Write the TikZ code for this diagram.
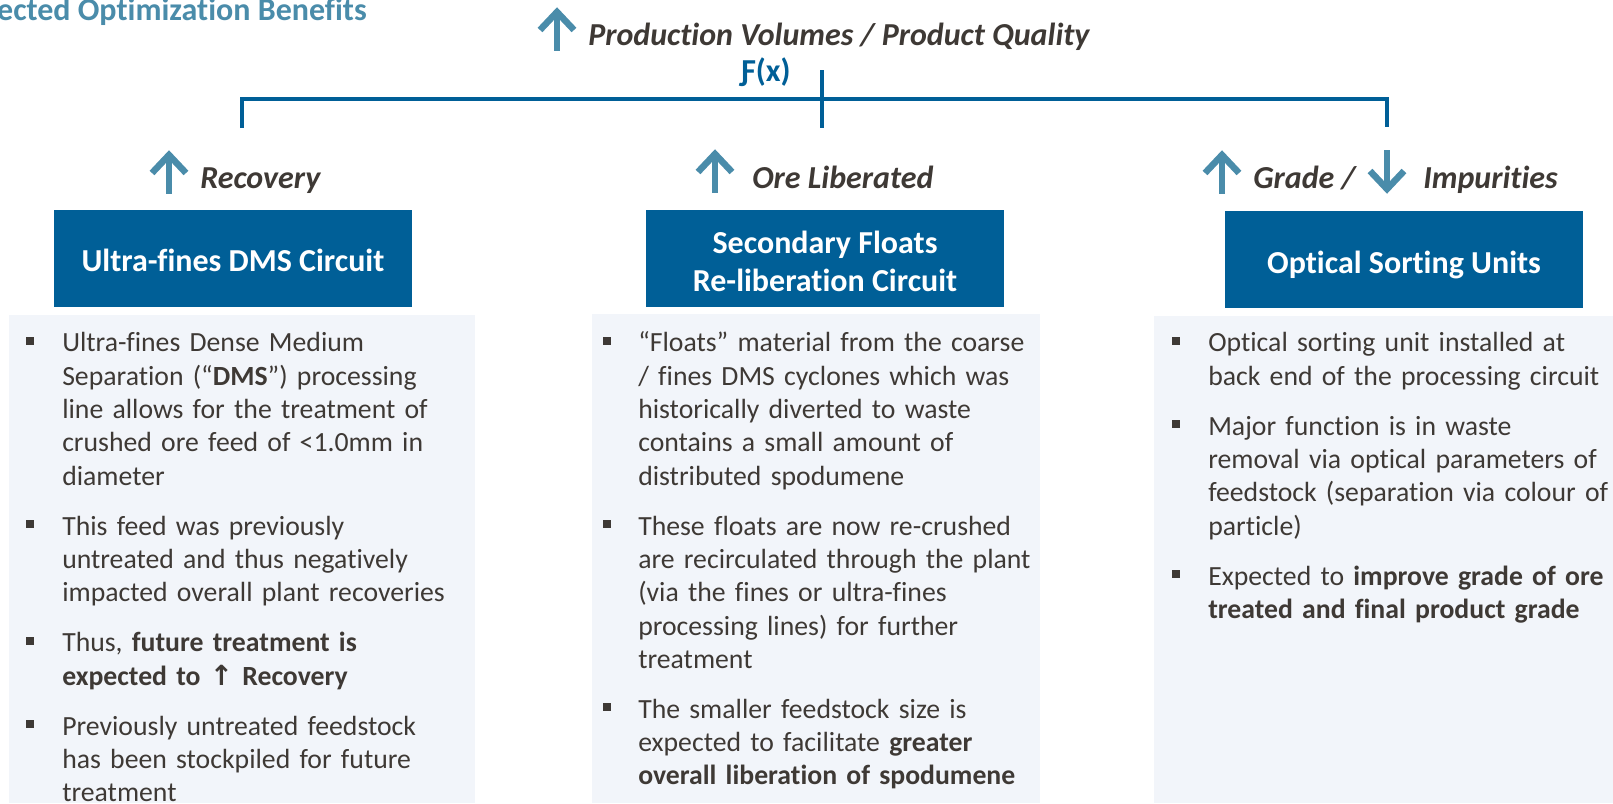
\documentclass[tikz,border=0pt]{standalone}
\usepackage{fontspec}
\setmainfont{Carlito}[Ligatures={NoCommon}]
\newfontfamily\arrowfont{DejaVu Sans}
\usetikzlibrary{calc}
\definecolor{textdark}{HTML}{3E3935}
\definecolor{teal}{HTML}{4A8CAA}
\definecolor{boxblue}{HTML}{005F97}
\definecolor{panelbg}{HTML}{F2F5FA}
\begin{document}
\begin{tikzpicture}[x=0.75pt,y=-0.75pt,
  hbox/.style={fill=boxblue, minimum width=268.5pt, minimum height=72.75pt, inner sep=0pt},
  htext/.style={text=white, inner sep=0pt, align=center, font=\bfseries\fontsize{24pt}{28.5pt}\selectfont},
  lbl/.style={anchor=base west, inner sep=0pt, text=textdark, font=\bfseries\itshape\fontsize{24pt}{28.5pt}\selectfont},
  body/.style={anchor=base west, inner sep=0pt, text=textdark, text width=450pt, align=left,
    font=\fontsize{20.8pt}{25pt}\selectfont},
  bul/.style={fill=textdark, minimum size=5.6pt, inner sep=0pt},
  bracket/.style={draw=boxblue, line width=2.5pt},
  arr/.style={draw=teal, line width=4.9pt},
  uparr/.pic={\draw[arr] (0,5) -- (0,44); \draw[arr, line join=miter] (-17,23) -- (0,5) -- (17,23);},
  dnarr/.pic={\draw[arr] (0,0) -- (0,39); \draw[arr, line join=miter] (-17,21) -- (0,39) -- (17,21);}
]
\useasboundingbox (0,0) rectangle (1613,803);
\fill[white] (0,0) rectangle (1613,803);

% title
\node[anchor=base east, inner sep=0pt, text=teal, font=\bfseries\fontsize{24pt}{28.5pt}\selectfont] (title) at (367,20) {ected Optimization Benefits};

% top objective
\pic at (557,7) {uparr};
\node[lbl] (prod) at (588,45) {Production Volumes / Product Quality};
\node[anchor=base west, inner sep=0pt, text=boxblue, font=\bfseries\fontsize{24pt}{28.5pt}\selectfont] (fx) at (741,81) {Ƒ(x)};

% bracket
\coordinate (bl) at (242,128);
\coordinate (blt) at (242,99);
\coordinate (brt) at (1387,99);
\coordinate (br) at (1387,127);
\coordinate (ct) at (822,70);
\coordinate (cb) at (822,128);
\draw[bracket] (bl) -- (blt) -- (brt) -- (br);
\draw[bracket] (ct) -- (cb);

% sub-objectives
\pic at (169,150) {uparr};
\node[lbl] (rec) at (200,188) {Recovery};
\pic at (715,149) {uparr};
\node[lbl] (ore) at (752,188) {Ore Liberated};
\pic at (1222,150) {uparr};
\node[lbl] (grade) at (1253,188) {Grade /};
\pic at (1387,150) {dnarr};
\node[lbl] (imp) at (1423,188) {Impurities};

% panels
\fill[panelbg] (9,315) rectangle (475,803);
\fill[panelbg] (592,314) rectangle (1040,803);
\fill[panelbg] (1154,316) rectangle (1613,803);

% header boxes
\node[hbox] (box1) at (233,258.5) {};
\node[htext] (box1t) at ($(box1.center)+(0,2)$) {Ultra-fines DMS Circuit};
\node[hbox] (box2) at (825,258.5) {};
\node[htext] (box2t) at ($(box2.center)+(0,3)$) {Secondary Floats\\Re-liberation Circuit};
\node[hbox] (box3) at (1404,259) {};
\node[htext] (box3t) at ($(box3.center)+(0,6)$) {Optical Sorting Units};

% panel 1
\node[bul] (b1a) at (30,341) {};
\node[body] (t1a) at (62,351.7) {Ultra-fines Dense Medium\\Separation (“\textbf{DMS}”) processing\\line allows for the treatment of\\crushed ore feed of <1.0mm in\\diameter};
\node[bul] (b1b) at (30,524) {};
\node[body] (t1b) at (62,535) {This feed was previously\\untreated and thus negatively\\impacted overall plant recoveries};
\node[bul] (b1c) at (30,641) {};
\node[body] (t1c) at (62,651.7) {Thus, \textbf{future treatment is\\expected to {\arrowfont ↑} Recovery}};
\node[bul] (b1d) at (30,724) {};
\node[body] (t1d) at (62,735) {Previously untreated feedstock\\has been stockpiled for future\\treatment};

% panel 2
\node[bul] (b2a) at (607,341) {};
\node[body] (t2a) at (638,351.7) {“Floats” material from the coarse\\/ fines DMS cyclones which was\\historically diverted to waste\\contains a small amount of\\distributed spodumene};
\node[bul] (b2b) at (607,524) {};
\node[body] (t2b) at (638,535) {These floats are now re-crushed\\are recirculated through the plant\\(via the fines or ultra-fines\\processing lines) for further\\treatment};
\node[bul] (b2c) at (607,707) {};
\node[body] (t2c) at (638,718.3) {The smaller feedstock size is\\expected to facilitate \textbf{greater\\overall liberation of spodumene}};

% panel 3
\node[bul] (b3a) at (1176,341) {};
\node[body] (t3a) at (1208,351.7) {Optical sorting unit installed at\\back end of the processing circuit};
\node[bul] (b3b) at (1176,424) {};
\node[body] (t3b) at (1208,435) {Major function is in waste\\removal via optical parameters of\\feedstock (separation via colour of\\particle)};
\node[bul] (b3c) at (1176,574) {};
\node[body] (t3c) at (1208,585) {Expected to \textbf{improve grade of ore\\treated and final product grade}};
\end{tikzpicture}
\end{document}
